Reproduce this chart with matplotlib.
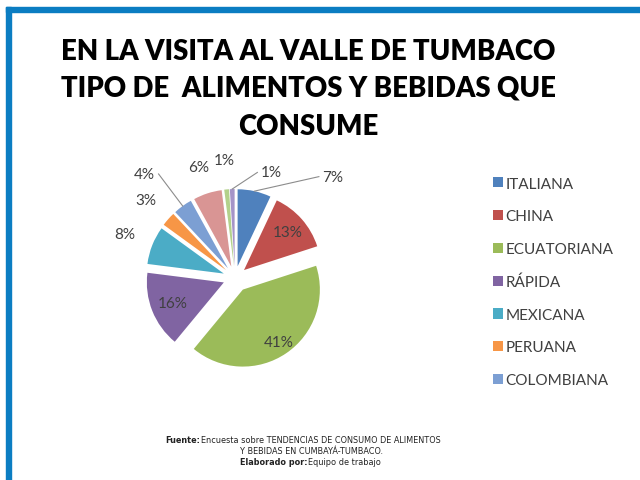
import matplotlib.pyplot as plt
from matplotlib.patches import Rectangle
import numpy as np

# datos
categorias = ['ITALIANA', 'CHINA', 'ECUATORIANA', 'RÁPIDA', 'MEXICANA',
              'PERUANA', 'COLOMBIANA', 'OTRA 1', 'OTRA 2', 'OTRA 3']
porcentajes = [7, 13, 41, 16, 8, 3, 4, 6, 1, 1]
en_leyenda = 7

colores = ['#4F81BD', '#C0504D', '#9BBB59', '#8064A2', '#4BACC6',
           '#F79646', '#7C9FD3', '#D99594', '#B3D18B', '#A594C8']

titulo = ['EN LA VISITA AL VALLE DE TUMBACO', 'TIPO DE  ALIMENTOS Y BEBIDAS QUE', 'CONSUME']

# figura en pixeles: 1 unidad = 1 px
fig = plt.figure(figsize=(6.4, 4.81), dpi=100)
ax = fig.add_axes([0, 0, 1, 1])

cx, cy = 235, 481 - 279
R = 77
explode = [12, 12, 14, 12, 12, 12, 12, 12, 12, 12]

wedges, _ = ax.pie(porcentajes, colors=colores, startangle=90, counterclock=False,
                   radius=R, center=(cx, cy), explode=explode,
                   wedgeprops=dict(linewidth=0))
ax.set_xlim(0, 640)
ax.set_ylim(0, 481)
ax.axis('off')

# distancias de etiqueta (en radios) ; None = con linea guia
dist = [None, 0.75, 0.82, 0.72, 1.38, 1.38, None, 1.36, 1.38, None]
guia = {0: (46, 1.83), 6: (131, 1.79), 9: (71, 1.45)}

txt = dict(fontsize=11, color='#404040', family='Lato', ha='center', va='center')
for i, w in enumerate(wedges):
    ang = np.deg2rad((w.theta1 + w.theta2) / 2)
    wx, wy = w.center
    if i in guia:
        a, d = guia[i]
        a = np.deg2rad(a)
        tx, ty = cx + d * R * np.cos(a), cy + d * R * np.sin(a)
        ex, ey = wx + R * np.cos(ang), wy + R * np.sin(ang)
        lado = 1 if np.cos(a) > 0 else -1
        ax.plot([ex, tx - lado * 14], [ey, ty], color='#8C8C8C', lw=0.8)
        ax.text(tx, ty, f'{porcentajes[i]}%', **txt)
    else:
        d = dist[i]
        tx, ty = wx + d * R * np.cos(ang), wy + d * R * np.sin(ang)
        ax.text(tx, ty, f'{porcentajes[i]}%', **txt)

# titulo
tit = dict(ha='center', va='center', fontsize=19.8, fontweight='heavy',
           family='Lato', color='black')
for linea, y in zip(titulo, [52, 89, 127]):
    fig.text(308 / 640, 1 - y / 481, linea, **tit)

# leyenda
leg = ax.legend(wedges[:en_leyenda], categorias[:en_leyenda],
                loc='upper left', bbox_to_anchor=(479 / 640, 1 - 164 / 481),
                frameon=False, handlelength=0.65, handleheight=0.65,
                handletextpad=0.2, labelspacing=1.22,
                prop=dict(family='Lato', size=11))
for t in leg.get_texts():
    t.set_color('#404040')

# fuente
pie_txt = dict(fontsize=5.9, family='DejaVu Sans', color='#222222', va='center')
fig.text(200 / 640, 1 - 441 / 481, 'Fuente:', ha='right', fontweight='bold', **pie_txt)
fig.text(201 / 640, 1 - 441 / 481, 'Encuesta sobre TENDENCIAS DE CONSUMO DE ALIMENTOS',
         ha='left', **pie_txt)
fig.text(312 / 640, 1 - 452 / 481, 'Y BEBIDAS EN CUMBAYÁ-TUMBACO.', ha='center', **pie_txt)
fig.text(307 / 640, 1 - 463 / 481, 'Elaborado por:', ha='right', fontweight='bold', **pie_txt)
fig.text(308 / 640, 1 - 463 / 481, 'Equipo de trabajo', ha='left', **pie_txt)

# marco azul
azul = '#0B7DC2'
fig.add_artist(Rectangle((6 / 640, 0), 5 / 640, 1 - 8 / 481, color=azul,
                         transform=fig.transFigure))
fig.add_artist(Rectangle((6 / 640, 1 - 13 / 481), 1, 5 / 481, color=azul,
                         transform=fig.transFigure))

fig.savefig('out.png', dpi=100)
